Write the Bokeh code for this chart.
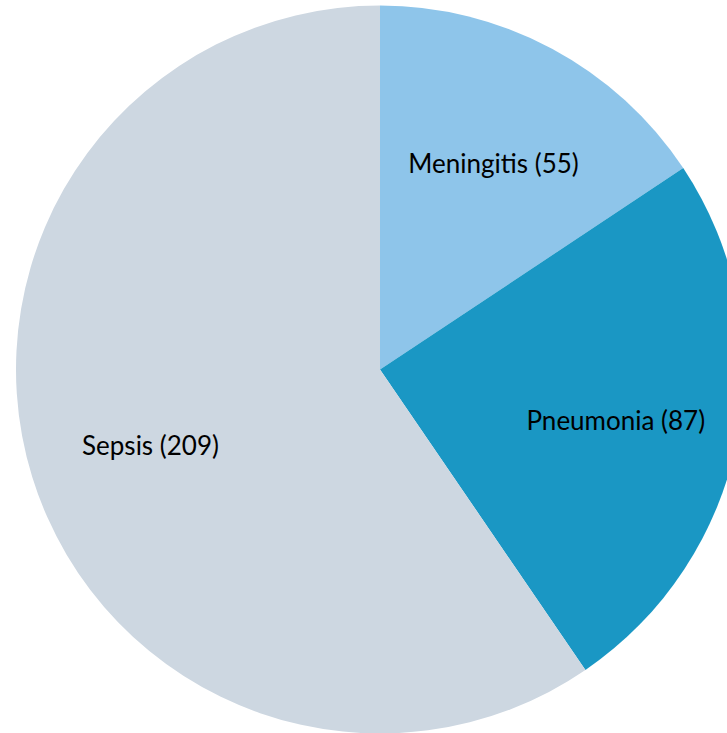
import numpy as np
from bokeh.plotting import figure
from bokeh.models import Range1d, ColumnDataSource
from bokeh.core.properties import value
from bokeh.embed import file_html
from bokeh.resources import INLINE

categories = ["Meningitis", "Pneumonia", "Sepsis"]
counts = [55, 87, 209]
colors = ["#8EC5EA", "#1A97C4", "#CDD7E1"]

W, H = 727, 733
cx, cy, R = 379.5, H - 369, 364

vals = np.array(counts, dtype=float)
frac = vals / vals.sum()
cum = np.concatenate([[0], np.cumsum(frac)])
start = np.pi / 2 - cum[:-1] * 2 * np.pi
end = np.pi / 2 - cum[1:] * 2 * np.pi
mid = (start + end) / 2
lr = 0.66 * R

src = ColumnDataSource(dict(
    start=start, end=end, color=colors,
    lx=cx + lr * np.cos(mid), ly=cy + lr * np.sin(mid),
    label=[f"{c} ({n})" for c, n in zip(categories, counts)],
))

p = figure(width=W, height=H, output_backend="svg", toolbar_location=None,
           x_range=Range1d(0, W), y_range=Range1d(0, H), min_border=0)
p.axis.visible = False
p.grid.visible = False
p.outline_line_color = None
p.background_fill_color = "white"

p.wedge(x=cx, y=cy, radius=R, start_angle="end", end_angle="start",
        fill_color="color", line_color=None, source=src)
p.text(x="lx", y="ly", text="label", source=src, text_align="center",
       text_baseline="middle", text_font=value("Lato"), text_font_size="26px",
       text_color="black", y_offset=5)

open("out.html", "w").write(file_html(p, INLINE))
